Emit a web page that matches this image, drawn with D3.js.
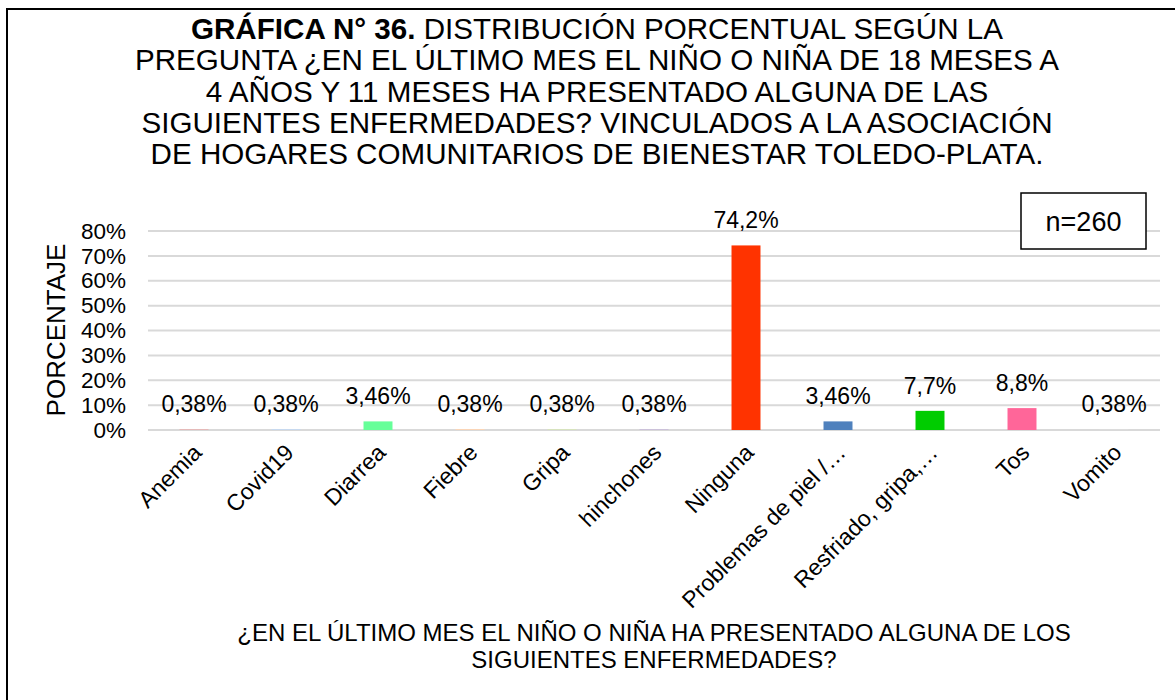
<!DOCTYPE html>
<html>
<head>
<meta charset="utf-8">
<script src="https://cdn.jsdelivr.net/npm/d3@7"></script>
<style>
  html, body { margin: 0; padding: 0; background: #fff; }
  svg { display: block; font-family: "Liberation Sans", Arial, sans-serif; }
</style>
</head>
<body>
<svg id="chart" width="1175" height="700"></svg>
<script>
// Survey answers (categories) and their percentage of respondents
const categories = ["Anemia", "Covid19", "Diarrea", "Fiebre", "Gripa", "hinchones", "Ninguna",
  "Problemas de piel /…", "Resfriado, gripa,…", "Tos", "Vomito"];
const values = [0.38, 0.38, 3.46, 0.38, 0.38, 0.38, 74.2, 3.46, 7.7, 8.8, 0.38];
const valueLabels = ["0,38%", "0,38%", "3,46%", "0,38%", "0,38%", "0,38%", "74,2%", "3,46%", "7,7%", "8,8%", "0,38%"];
const barColors = ["#e6b9b8", "#c6d9f1", "#66ff99", "#fcd5b5", "#d7e4bd", "#ccc1da", "#ff3300",
  "#4f81bd", "#00cc00", "#ff6699", "#dddddd"];
const yTicks = [0, 10, 20, 30, 40, 50, 60, 70, 80];
const titleLines = [
  ["GRÁFICA N° 36.", " DISTRIBUCIÓN PORCENTUAL SEGÚN LA"],
  ["", "PREGUNTA ¿EN EL ÚLTIMO MES EL NIÑO O NIÑA DE 18 MESES A"],
  ["", "4 AÑOS Y 11 MESES HA PRESENTADO ALGUNA DE LAS"],
  ["", "SIGUIENTES ENFERMEDADES? VINCULADOS A LA ASOCIACIÓN"],
  ["", "DE HOGARES COMUNITARIOS DE BIENESTAR TOLEDO-PLATA."]
];
const xTitleLines = ["¿EN EL ÚLTIMO MES EL NIÑO O NIÑA HA PRESENTADO ALGUNA DE LOS",
  "SIGUIENTES ENFERMEDADES?"];
const yTitle = "PORCENTAJE";
const sampleNote = "n=260";

const svg = d3.select("#chart");

// Frame lines (top and left edges)
svg.append("path")
  .attr("d", "M7,700 L7,9 L1175,9")
  .attr("fill", "none").attr("stroke", "#000").attr("stroke-width", 2);

// Title
const title = svg.append("text")
  .attr("text-anchor", "middle")
  .attr("font-size", 29.6)
  .attr("fill", "#000");
titleLines.forEach((ln, i) => {
  const t = title.append("tspan").attr("x", 597).attr("y", 39 + i * 31.3);
  if (ln[0]) t.append("tspan").attr("font-weight", "bold").text(ln[0]);
  t.append("tspan").text(ln[1]);
});

// Scales
const x = d3.scaleBand().domain(categories).range([148, 1160]).paddingInner(0.685).paddingOuter(0.3425);
const y = d3.scaleLinear().domain([0, 80]).range([430, 231]);

// Gridlines
svg.append("g").selectAll("line").data(yTicks).join("line")
  .attr("x1", 148).attr("x2", 1160)
  .attr("y1", d => y(d)).attr("y2", d => y(d))
  .attr("stroke", "#d9d9d9").attr("stroke-width", 2);

// Y axis tick labels
const yAxis = d3.axisLeft(y).tickValues(yTicks).tickFormat(d => d + "%").tickSize(0).tickPadding(0);
const gy = svg.append("g").attr("transform", "translate(126,0)").call(yAxis);
gy.select(".domain").remove();
gy.selectAll("text").attr("font-size", 22.5).attr("fill", "#000")
  .attr("font-family", "'Liberation Sans', Arial, sans-serif");

// Bars
svg.append("g").selectAll("rect").data(categories).join("rect")
  .attr("x", d => x(d))
  .attr("width", x.bandwidth())
  .attr("y", (d, i) => y(values[i]))
  .attr("height", (d, i) => y(0) - y(values[i]))
  .attr("fill", (d, i) => barColors[i]);

// Value labels
svg.append("g").selectAll("text").data(categories).join("text")
  .attr("x", d => x(d) + x.bandwidth() / 2)
  .attr("y", (d, i) => y(values[i]) - 17)
  .attr("text-anchor", "middle")
  .attr("font-size", 23)
  .attr("fill", "#000")
  .text((d, i) => valueLabels[i]);

// Category labels, rotated
svg.append("g").selectAll("text").data(categories).join("text")
  .attr("transform", d => `translate(${x(d) + x.bandwidth() / 2 + 9},454) rotate(-45)`)
  .attr("text-anchor", "end")
  .attr("font-size", 23)
  .attr("fill", "#000")
  .text(d => d);

// Axis titles
svg.append("text")
  .attr("transform", "translate(65,330) rotate(-90)")
  .attr("text-anchor", "middle")
  .attr("font-size", 26)
  .attr("fill", "#000")
  .text(yTitle);

const xt = svg.append("text").attr("text-anchor", "middle").attr("font-size", 24).attr("fill", "#000");
xTitleLines.forEach((t, i) => xt.append("tspan").attr("x", 654).attr("y", 641 + i * 27).text(t));

// Sample size box
svg.append("rect")
  .attr("x", 1021).attr("y", 193).attr("width", 125).attr("height", 56)
  .attr("fill", "#fff").attr("stroke", "#000").attr("stroke-width", 1.5);
svg.append("text")
  .attr("x", 1083.5).attr("y", 231)
  .attr("text-anchor", "middle")
  .attr("font-size", 27)
  .attr("fill", "#000")
  .text(sampleNote);
</script>
</body>
</html>
